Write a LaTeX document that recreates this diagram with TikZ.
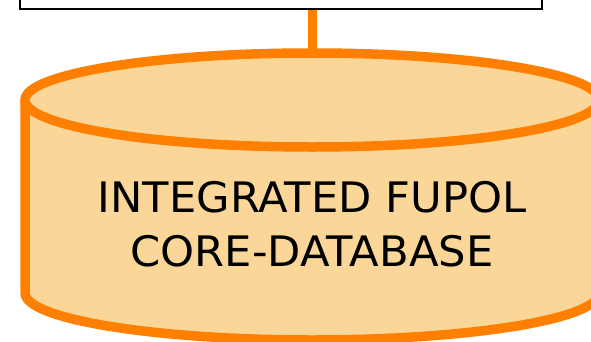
\documentclass[tikz,border=0pt]{standalone}
\usepackage{fontspec}
\setmainfont{DejaVu Sans}
\newfontfamily\dbfont[FakeStretch=1.03]{DejaVu Sans}
\usepackage{tikz}
\usetikzlibrary{positioning}

\definecolor{dborange}{RGB}{255,128,0}
\definecolor{dbfill}{RGB}{250,215,153}

\begin{document}
\begin{tikzpicture}[x=1pt, y=1pt,
    dbline/.style={draw=dborange, line width=9.5pt},
    boxline/.style={draw=black, line width=1.5pt}]

  \newcommand\CX{312};
  \newcommand\RX{287};
  \newcommand\RY{47};

  \useasboundingbox (0,0) rectangle (591,341);
  \clip (0,0) rectangle (591,341);

  %% upper box (cut by the edge)
  \node[boxline, rectangle, minimum width=522pt, minimum height=60pt, inner sep=0pt]
    (portal) at (281,362) {};

  %% cylinder body
  \coordinate (dbtop) at (\CX, 241+\RY);
  \fill[dbfill] (\CX-\RX, 241) -- (\CX-\RX, 48)
    arc[start angle=180, end angle=360, x radius=\RX, y radius=\RY]
    -- (\CX+\RX, 241) -- cycle;
  \fill[dbfill] (\CX, 241) ellipse[x radius=\RX, y radius=\RY];
  \draw[dbline] (\CX-\RX, 241) -- (\CX-\RX, 48)
    arc[start angle=180, end angle=360, x radius=\RX, y radius=\RY]
    -- (\CX+\RX, 241);
  \draw[dbline] (\CX, 241) ellipse[x radius=\RX, y radius=\RY];

  %% link box -> database
  \draw[dbline, line width=9pt] (dbtop |- portal.south) -- (dbtop);

  \node[align=center, font=\dbfont\fontsize{42}{54}\selectfont] (dblabel) at (\CX, 117)
    {INTEGRATED FUPOL\\CORE-DATABASE};
\end{tikzpicture}
\end{document}
